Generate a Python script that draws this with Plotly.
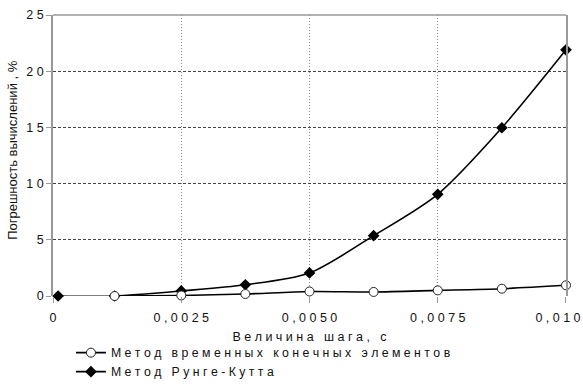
import plotly.graph_objects as go

# Step size, s
step_rk = [0.0001, 0.0012, 0.0025, 0.00375, 0.005, 0.00625, 0.0075, 0.00875, 0.01]
step_fe = [0.0012, 0.0025, 0.00375, 0.005, 0.00625, 0.0075, 0.00875, 0.01]

# Computation error, %
err_rk = [0.0, 0.0, 0.45, 1.0, 2.05, 5.37, 9.05, 14.97, 21.9]
err_fe = [0.0, 0.05, 0.18, 0.4, 0.36, 0.5, 0.65, 0.95]

x_tickvals = [0, 0.0025, 0.005, 0.0075, 0.01]
x_ticklabels = ["0", "0,0025", "0,0050", "0,0075", "0,010"]
y_tickvals = [0, 5, 10, 15, 20, 25]
y_ticklabels = ["0", "5", "10", "15", "20", "25"]

name_fe = "Метод временных конечных элементов"
name_rk = "Метод Рунге-Кутта"
x_title = "Величина шага, с"
y_title = "Погрешность вычислений , %"


def spaced(s):
    # wide letter spacing: a non-breaking space between every character,
    # a wider gap between words
    words = s.split(" ")
    return "\u00a0\u00a0\u00a0".join("\u00a0".join(w) for w in words)


FAMILY = "Liberation Sans, Arial, sans-serif"
INK = "#111111"
FONT = dict(family=FAMILY, size=12, color=INK)
TICKFONT = dict(family=FAMILY, size=12.5, color=INK)
X_RANGE = [0, 0.0100001]

x_ticktext = [spaced(t) for t in x_ticklabels]

fig = go.Figure()
fig.add_trace(go.Scatter(
    x=step_rk, y=err_rk, name=spaced(name_rk), mode="lines+markers",
    line=dict(color="black", width=1.6, shape="spline", smoothing=0.8),
    marker=dict(symbol="diamond", size=9, color="black"),
    cliponaxis=False,
))
fig.add_trace(go.Scatter(
    x=step_fe, y=err_fe, name=spaced(name_fe), mode="lines+markers",
    line=dict(color="black", width=1.6, shape="spline", smoothing=0.8),
    marker=dict(symbol="circle", size=9, color="white",
                line=dict(color="#222222", width=1)),
    cliponaxis=False,
))

fig.update_layout(
    width=583, height=392,
    margin=dict(l=53, r=17, t=15, b=96, autoexpand=False),
    paper_bgcolor="white", plot_bgcolor="white",
    font=FONT,
    showlegend=True,
    legend=dict(
        x=0.035, xanchor="left", y=-0.15, yanchor="top",
        traceorder="reversed", itemwidth=30, tracegroupgap=0,
        font=dict(family=FAMILY, size=12.3, color=INK),
        bgcolor="rgba(0,0,0,0)",
    ),
    xaxis=dict(
        range=X_RANGE,
        tickmode="array", tickvals=x_tickvals,
        # last label is drawn by the helper axis below, nudged inwards
        ticktext=x_ticktext[:-1] + [""],
        ticklabelstandoff=4,
        showline=False, zeroline=False,
        showgrid=True, gridcolor="#888888", gridwidth=1, griddash="1px,2px",
        ticks="outside", ticklen=6, tickcolor="#999999",
        tickfont=TICKFONT,
        title=dict(text=spaced(x_title),
                   font=dict(family=FAMILY, size=12.5, color=INK), standoff=8),
    ),
    xaxis2=dict(
        overlaying="x", side="bottom", range=X_RANGE,
        tickmode="array", tickvals=x_tickvals[-1:], ticktext=x_ticktext[-1:],
        ticklabelshift=-8, ticklabelstandoff=4, ticklabeloverflow="allow",
        ticks="outside", ticklen=6, tickcolor="rgba(0,0,0,0)",
        showgrid=False, showline=False, zeroline=False,
        tickfont=TICKFONT,
    ),
    yaxis=dict(
        range=[0, 25],
        tickmode="array", tickvals=y_tickvals,
        ticktext=[spaced(t) for t in y_ticklabels],
        showline=True, linecolor="#999999", linewidth=1.5, mirror=True,
        zeroline=False,
        showgrid=True, gridcolor="#444444", gridwidth=1, griddash="3px,2px",
        ticks="outside", ticklen=5, tickcolor="#999999",
        tickfont=TICKFONT,
    ),
)

# an invisible trace so the helper axis is drawn
fig.add_trace(go.Scatter(x=[], y=[], xaxis="x2", yaxis="y",
                         showlegend=False, hoverinfo="skip"))

# vertical axis title
fig.add_annotation(
    text=y_title, textangle=-90, showarrow=False,
    xref="paper", yref="paper", x=-0.078, y=0.52,
    xanchor="center", yanchor="middle",
    font=dict(family=FAMILY, size=13, color=INK),
)

# solid top border of the plot area
fig.add_shape(type="line", xref="paper", yref="paper", x0=0, x1=1, y0=1, y1=1,
              line=dict(color="#999999", width=1.5))

fig.write_html("out.html")
